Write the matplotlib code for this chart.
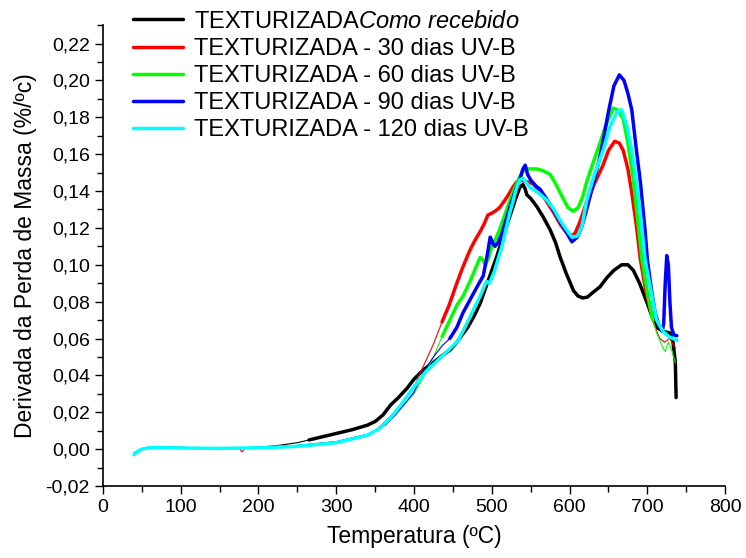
import numpy as np
import matplotlib
matplotlib.use('Agg')
import matplotlib.pyplot as plt
from matplotlib.ticker import MultipleLocator, FuncFormatter

plt.rcParams['font.family'] = ['Liberation Sans', 'DejaVu Sans']
plt.rcParams['mathtext.fontset'] = 'custom'
plt.rcParams['mathtext.rm'] = 'Liberation Sans'
plt.rcParams['mathtext.it'] = 'Liberation Sans:italic'

## curves: temperature (C) and mass-loss derivative (%/C)
t_ref = [40, 45, 50, 60, 70, 85, 100, 125, 150, 175, 200, 225, 250, 265, 280, 300, 320, 340,
         350, 360, 370, 380, 391, 400, 412, 425, 437, 447, 455, 462, 469, 477, 485, 495, 506,
         515, 523, 530, 536, 540, 543, 545, 550, 558, 566, 575, 582, 588, 596, 605, 611, 617,
         623, 630, 639, 648, 657, 667, 675, 682, 690, 700, 706, 712, 720, 729, 733, 736, 737]
d_ref = [-0.003, -0.001, 0.0, 0.001, 0.0015, 0.0012, 0.001, 0.0007, 0.0005, 0.0005, 0.001,
         0.002, 0.0035, 0.005, 0.0065, 0.0085, 0.0105, 0.013, 0.015, 0.0185, 0.024, 0.028,
         0.033, 0.038, 0.043, 0.047, 0.051, 0.054, 0.058, 0.062, 0.066, 0.072, 0.079, 0.091,
         0.104, 0.116, 0.126, 0.135, 0.142, 0.1435, 0.141, 0.138, 0.136, 0.1315, 0.126, 0.119,
         0.112, 0.104, 0.095, 0.086, 0.083, 0.082, 0.0825, 0.085, 0.088, 0.093, 0.097, 0.100,
         0.100, 0.097, 0.090, 0.079, 0.072, 0.066, 0.064, 0.063, 0.058, 0.047, 0.028]

t_30 = [40, 50, 60, 80, 100, 150, 175, 179, 183, 200, 250, 300, 340, 350, 363, 375, 391, 400,
        412, 425, 436, 445, 455, 463, 472, 478, 485, 490, 495, 500, 504, 510, 515, 520, 527,
        532, 536, 545, 553, 562, 571, 580, 588, 595, 601, 607, 613, 622, 632, 643, 650, 658,
        664, 669, 675, 680, 686, 691, 698, 706, 712, 716, 722, 729, 733, 736]
d_30 = [-0.002, 0.0, 0.0008, 0.001, 0.0008, 0.0005, 0.0005, -0.0015, 0.0005, 0.001, 0.002,
        0.004, 0.008, 0.010, 0.015, 0.020, 0.028, 0.034, 0.045, 0.057, 0.069, 0.078, 0.090,
        0.099, 0.108, 0.113, 0.118, 0.122, 0.127, 0.128, 0.129, 0.131, 0.134, 0.137, 0.142,
        0.145, 0.146, 0.145, 0.144, 0.140, 0.134, 0.128, 0.122, 0.118, 0.1155, 0.117, 0.123,
        0.134, 0.144, 0.154, 0.162, 0.167, 0.166, 0.162, 0.152, 0.139, 0.121, 0.103, 0.086,
        0.072, 0.064, 0.060, 0.058, 0.060, 0.057, 0.055]

t_60 = [40, 50, 60, 80, 100, 150, 200, 250, 300, 340, 350, 363, 375, 391, 400, 412, 425, 436,
        445, 455, 463, 472, 480, 485, 488, 492, 496, 500, 505, 510, 515, 520, 525, 530, 535,
        540, 545, 550, 558, 566, 575, 582, 588, 593, 598, 605, 611, 617, 622, 630, 639, 647,
        656, 662, 669, 675, 682, 688, 693, 700, 707, 712, 716, 720, 723, 727, 731, 736]
d_60 = [-0.002, 0.0, 0.0008, 0.001, 0.0008, 0.0006, 0.001, 0.002, 0.004, 0.008, 0.010, 0.014,
        0.019, 0.026, 0.030, 0.039, 0.050, 0.061, 0.069, 0.078, 0.083, 0.091, 0.099, 0.104,
        0.103, 0.100, 0.104, 0.110, 0.114, 0.119, 0.125, 0.131, 0.137, 0.142, 0.147, 0.151,
        0.152, 0.152, 0.152, 0.151, 0.149, 0.144, 0.139, 0.135, 0.131, 0.129, 0.131, 0.137,
        0.145, 0.155, 0.166, 0.176, 0.185, 0.184, 0.179, 0.166, 0.146, 0.123, 0.103, 0.085,
        0.070, 0.063, 0.059, 0.055, 0.053, 0.058, 0.054, 0.047]

t_90 = [40, 50, 60, 80, 100, 150, 200, 250, 300, 340, 350, 363, 375, 391, 400, 412, 425, 436,
        446, 455, 463, 472, 481, 489, 494, 498, 501, 504, 508, 513, 518, 523, 530, 536, 540,
        543, 546, 550, 556, 562, 570, 579, 587, 594, 603, 610, 616, 622, 630, 637, 643, 650,
        657, 664, 670, 675, 680, 686, 691, 697, 700, 705, 710, 715, 719, 721, 723, 725, 727,
        729, 731, 734, 738]
d_90 = [-0.002, 0.0, 0.0008, 0.001, 0.0008, 0.0005, 0.001, 0.002, 0.004, 0.008, 0.010, 0.013,
        0.018, 0.026, 0.031, 0.042, 0.050, 0.056, 0.060, 0.066, 0.074, 0.081, 0.088, 0.094,
        0.105, 0.115, 0.112, 0.110, 0.112, 0.117, 0.124, 0.131, 0.140, 0.146, 0.152, 0.154,
        0.149, 0.146, 0.143, 0.141, 0.136, 0.130, 0.124, 0.119, 0.1125, 0.115, 0.121, 0.130,
        0.143, 0.155, 0.167, 0.183, 0.197, 0.203, 0.200, 0.193, 0.184, 0.162, 0.145, 0.119,
        0.103, 0.087, 0.074, 0.067, 0.064, 0.068, 0.090, 0.105, 0.100, 0.080, 0.066, 0.062,
        0.0615]

t_120 = [40, 45, 50, 60, 80, 100, 150, 200, 250, 300, 340, 355, 370, 385, 400, 415, 430, 445,
         457, 470, 478, 485, 490, 493, 497, 503, 508, 513, 518, 523, 527, 530, 533, 536, 540,
         549, 560, 571, 580, 588, 596, 603, 610, 616, 622, 632, 643, 652, 661, 667, 674, 680,
         687, 692, 697, 705, 712, 720, 728, 733, 738]
d_120 = [-0.003, -0.001, 0.0, 0.0008, 0.0008, 0.0006, 0.0004, 0.0007, 0.0015, 0.0035, 0.0075,
         0.011, 0.017, 0.025, 0.034, 0.042, 0.048, 0.054, 0.059, 0.070, 0.077, 0.083, 0.088,
         0.091, 0.090, 0.096, 0.103, 0.110, 0.119, 0.128, 0.134, 0.139, 0.143, 0.146, 0.147,
         0.142, 0.139, 0.135, 0.130, 0.124, 0.119, 0.115, 0.1155, 0.121, 0.135, 0.149, 0.162,
         0.175, 0.183, 0.184, 0.175, 0.162, 0.142, 0.124, 0.103, 0.085, 0.070, 0.064, 0.061,
         0.060, 0.059]

labels = ['TEXTURIZADA$\\mathit{Como\\ recebido}$',
          'TEXTURIZADA - 30 dias UV-B',
          'TEXTURIZADA - 60 dias UV-B',
          'TEXTURIZADA - 90 dias UV-B',
          'TEXTURIZADA - 120 dias UV-B']
colors = ['#000000', '#ff0000', '#00ff00', '#0000ff', '#00ffff']
series = [(t_ref, d_ref), (t_30, d_30), (t_60, d_60), (t_90, d_90), (t_120, d_120)]
## range where the original trace is drawn thick
thick = [(265, 740), (435, 709), (435, 710), (445, 740), (0, 740)]

fig = plt.figure(figsize=(7.46, 5.58), dpi=100)
ax = fig.add_axes([0.138, 0.129, 0.834, 0.826])

for (t, d), c, lab, (lo, hi) in zip(series, colors, labels, thick):
    t = np.array(t)
    d = np.array(d)
    ax.plot(t, d, color=c, lw=0.8)
    m = (t >= lo) & (t <= hi)
    ax.plot(t[m], d[m], color=c, lw=2.5, label=lab, solid_capstyle='round')

ax.set_xlim(0, 800)
ax.set_ylim(-0.02, 0.23)
ax.set_yticks(np.arange(-0.02, 0.221, 0.02))
ax.xaxis.set_major_locator(MultipleLocator(100))
ax.xaxis.set_minor_locator(MultipleLocator(50))
ax.yaxis.set_minor_locator(MultipleLocator(0.01))
ax.yaxis.set_major_formatter(FuncFormatter(lambda v, p: ('%.2f' % v).replace('.', ',').replace('-0,00', '0,00')))
ax.tick_params(which='major', direction='out', length=6, width=1, labelsize=14, colors='black')
ax.tick_params(which='minor', direction='out', length=4, width=1)
for s in ['top', 'right']:
    ax.spines[s].set_visible(False)
for s in ['left', 'bottom']:
    ax.spines[s].set_linewidth(1.2)

ax.set_xlabel('Temperatura (ºC)', fontsize=16.5, labelpad=6)
ax.set_ylabel('Derivada da Perda de Massa (%/ºc)', fontsize=16.5, labelpad=6)

leg = ax.legend(loc='upper left', bbox_to_anchor=(0.033, 1.052), frameon=False, fontsize=17,
                handlelength=2.1, handletextpad=0.5, labelspacing=0.22, borderaxespad=0)

fig.savefig('out.png', dpi=100)
print('Done')
